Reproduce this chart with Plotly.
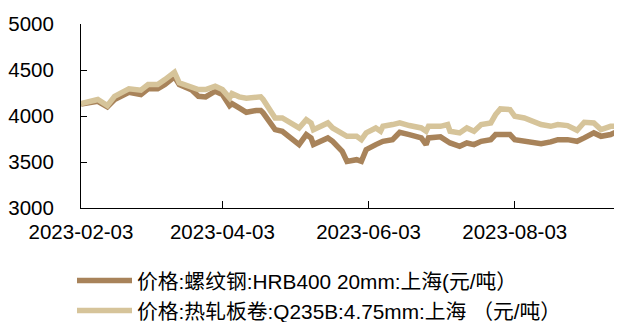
import plotly.graph_objects as go

dates = ["2023-02-03","2023-02-10","2023-02-14","2023-02-17","2023-02-23","2023-02-28",
         "2023-03-03","2023-03-07","2023-03-10","2023-03-14","2023-03-16","2023-03-21",
         "2023-03-24","2023-03-27","2023-03-31","2023-04-03","2023-04-06","2023-04-07",
         "2023-04-10","2023-04-13","2023-04-17","2023-04-19","2023-04-20","2023-04-25",
         "2023-04-28","2023-05-04","2023-05-05","2023-05-08","2023-05-10","2023-05-11",
         "2023-05-17","2023-05-19","2023-05-23","2023-05-25","2023-05-29","2023-05-31",
         "2023-06-02","2023-06-06","2023-06-08","2023-06-09","2023-06-13","2023-06-16",
         "2023-06-20","2023-06-25","2023-06-27","2023-06-28","2023-07-03","2023-07-06",
         "2023-07-07","2023-07-11","2023-07-14","2023-07-17","2023-07-20","2023-07-24",
         "2023-07-26","2023-07-28","2023-08-01","2023-08-03","2023-08-07","2023-08-10",
         "2023-08-14","2023-08-18","2023-08-21","2023-08-25","2023-08-29","2023-09-01",
         "2023-09-05","2023-09-08","2023-09-12","2023-09-15"]

rebar = [4130, 4160, 4099, 4178, 4258, 4233,
         4295, 4295, 4342, 4425, 4342, 4287,
         4214, 4207, 4269, 4233, 4113, 4135,
         4088, 4040, 4059, 4059, 4034, 3852,
         3834, 3725, 3689, 3798, 3760, 3689,
         3762, 3725, 3616, 3507, 3525, 3507,
         3634, 3689, 3707, 3725, 3743, 3823,
         3798, 3762, 3689, 3762, 3773, 3725,
         3707, 3670, 3707, 3689, 3725, 3743,
         3798, 3798, 3798, 3743, 3725, 3707,
         3700, 3718, 3743, 3743, 3725, 3762,
         3816, 3779, 3798, 3834]

hrc = [4135, 4179, 4113, 4214, 4295, 4280,
       4342, 4342, 4396, 4476, 4360, 4317,
       4287, 4287, 4323, 4287, 4197, 4244,
       4208, 4193, 4208, 4208, 4179, 3979,
       3979, 3870, 3870, 3961, 3925, 3852,
       3925, 3870, 3816, 3779, 3779, 3743,
       3816, 3870, 3834, 3888, 3907, 3925,
       3896, 3870, 3834, 3888, 3888, 3907,
       3834, 3816, 3870, 3834, 3907, 3925,
       4016, 4077, 4070, 3997, 3979, 3943,
       3907, 3888, 3907, 3896, 3845, 3932,
       3925, 3852, 3888, 3888]

tick_dates = ["2023-02-03", "2023-04-03", "2023-06-03", "2023-08-03"]
y_ticks = [3000, 3500, 4000, 4500, 5000]

name_rebar = "价格:螺纹钢:HRB400 20mm:上海(元/吨）"
name_hrc = "价格:热轧板卷:Q235B:4.75mm:上海 （元/吨）"

c_rebar = "#A8835A"
c_hrc = "#D6C49A"

font_fam = "Liberation Sans, Arial, Noto Sans CJK SC, sans-serif"

# page body has an 8px margin, so the figure is 8px smaller and offset
# window plot area: x 81..619 px, y 24..208 px
PW, PH = 538.0, 184.0

fig = go.Figure()
fig.add_trace(go.Scatter(x=dates, y=rebar, mode="lines", name=name_rebar,
                         line=dict(color=c_rebar, width=5.5), legend="legend"))
fig.add_trace(go.Scatter(x=dates, y=hrc, mode="lines", name=name_hrc,
                         line=dict(color=c_hrc, width=5.5), legend="legend2"))

fig.update_layout(
    width=614, height=314,
    margin=dict(l=73, r=3, t=16, b=114, autoexpand=False),
    paper_bgcolor="white", plot_bgcolor="white",
    font=dict(family=font_fam, size=20.5, color="#000000"),
    showlegend=True,
    legend=dict(x=-9 / PW, y=(208 - 281) / PH,
                xanchor="left", yanchor="middle", itemwidth=55,
                font=dict(size=20.8), bgcolor="rgba(0,0,0,0)"),
    legend2=dict(x=-9 / PW, y=(208 - 311) / PH,
                 xanchor="left", yanchor="middle", itemwidth=55,
                 font=dict(size=20.8), bgcolor="rgba(0,0,0,0)"),
    xaxis=dict(type="date", range=["2023-02-03", "2023-09-15 12:00"],
               tickvals=tick_dates, ticktext=tick_dates, tickangle=0,
               showline=True, linecolor="black", linewidth=1,
               ticks="inside", ticklen=7, tickcolor="black", automargin=False,
               showgrid=False, zeroline=False, ticklabelstandoff=5),
    yaxis=dict(range=[3000, 5000], tickvals=y_ticks, automargin=False,
               showline=True, linecolor="black", linewidth=1,
               ticks="inside", ticklen=6, tickcolor="black",
               showgrid=False, zeroline=False, ticklabelstandoff=22),
)

fig.write_html("out.html")
